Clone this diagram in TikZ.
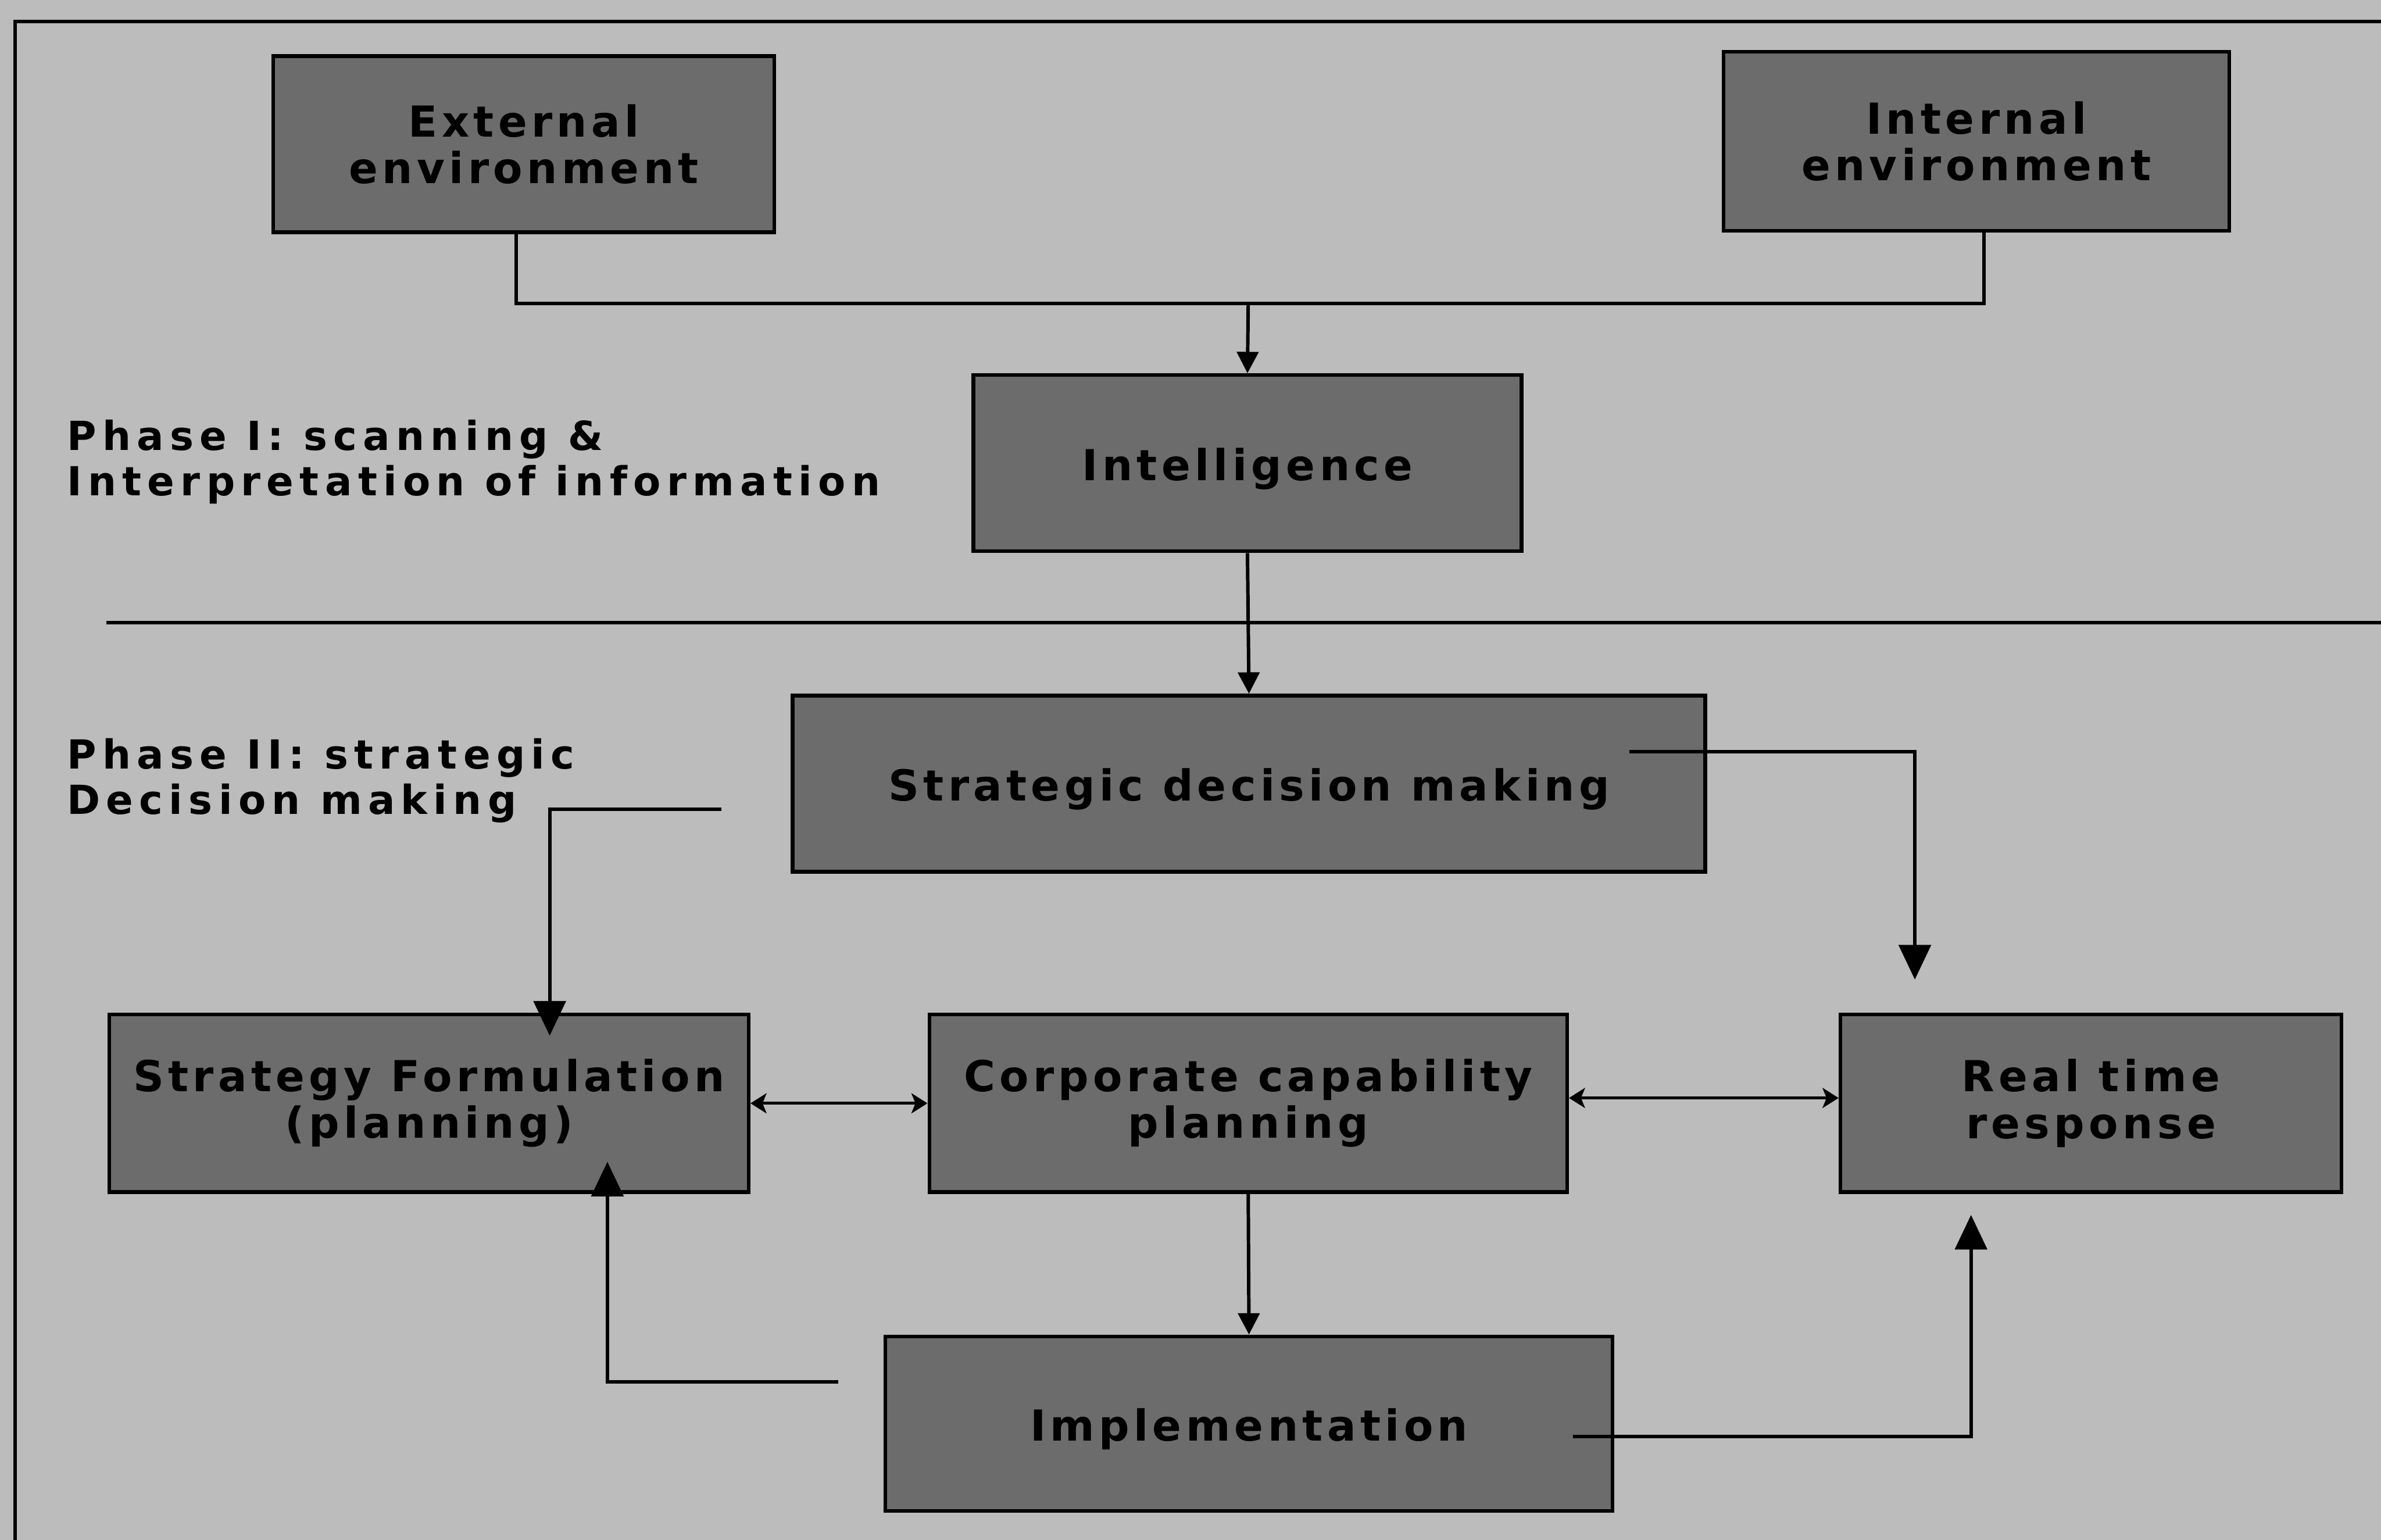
\documentclass[tikz,border=0pt]{standalone}
\usepackage{fontspec}
\setmainfont{DejaVu Sans}
\newfontfamily\boxfont[LetterSpace=10]{DejaVu Sans}
\newfontfamily\phasefont[LetterSpace=15]{DejaVu Sans}
\usetikzlibrary{arrows.meta,calc}
\definecolor{paper}{RGB}{188,188,188}
\definecolor{boxfill}{RGB}{108,108,108}
\begin{document}
\def\u{0.02cm}
\begin{tikzpicture}[x=0.02cm,y=-0.02cm,
  line width=1.3pt,
  stagebox/.style={draw=black, fill=boxfill, line width=1.4pt, align=center,
    inner sep=0pt, font=\boxfont\bfseries\fontsize{16}{17.5}\selectfont},
  oneline/.style={text height=13pt, text depth=0pt},
  phaselabel/.style={anchor=west, align=left, inner sep=0pt,
    font=\phasefont\bfseries\fontsize{15}{17}\selectfont},
  arrS/.style={-{Triangle[length=8pt,width=8pt]}},
  arrL/.style={-{Triangle[length=13pt,width=12pt]}},
  dbl/.style={{Stealth[length=6pt,width=7.5pt,inset=1.5pt]}-{Stealth[length=6pt,width=7.5pt,inset=1.5pt]}, line width=1.1pt}]

% page and frame
\fill[paper] (0,0) rectangle (1568,1014);
\useasboundingbox (0,0) rectangle (1568,1014);
\draw (10,1014) -- (10,14) -- (1568,14);
\draw (70,410) -- (1568,410);

% stages
\node[stagebox, minimum width=330*\u, minimum height=116*\u] (ext)   at (345,95)    {External\\environment};
\node[stagebox, minimum width=333*\u, minimum height=118*\u] (int)   at (1301.5,93) {Internal\\environment};
\node[stagebox, oneline, minimum width=361*\u, minimum height=116*\u] (intel) at (821.5,305) {Intelligence};
\node[stagebox, oneline, minimum width=601*\u, minimum height=116*\u] (sdm)   at (822.5,516) {Strategic decision making};
\node[stagebox, minimum width=421*\u, minimum height=117*\u] (sf)    at (282.5,726.5) {Strategy Formulation\\(planning)};
\node[stagebox, minimum width=420*\u, minimum height=117*\u] (ccp)   at (822,726.5) {Corporate capability\\planning};
\node[stagebox, minimum width=330*\u, minimum height=117*\u] (rtr)   at (1377,726.5) {Real time\\response};
\node[stagebox, oneline, minimum width=479*\u, minimum height=115*\u] (impl)  at (822.5,937.5) {Implementation};

% phase labels
\node[phaselabel] (ph1) at (43,304) {Phase I: scanning \&\\Interpretation of information};
\node[phaselabel] (ph2) at (43,514) {Phase II: strategic\\Decision making};

% connector end points
\coordinate (join)   at (822,200);
\coordinate (dmL)    at (475,533);
\coordinate (sfIn)   at (362,682);
\coordinate (dmR)    at (1073,495);
\coordinate (rtIn)   at (1261,645);
\coordinate (imL)    at (552,910);
\coordinate (sfBack) at (400,765);
\coordinate (imR)    at (1036,946);
\coordinate (rtBack) at (1298,800);

% connectors
\draw ([xshift=-5*\u]ext.south) |- (join) -| ([xshift=5*\u]int.south);
\draw[arrS] (join) -- (intel.north);
\draw[arrS] (intel.south) -- (sdm.north);
\draw[arrL] (dmL) -| (sfIn);
\draw[arrL] (dmR) -| (rtIn);
\draw[dbl] (sf.east) -- (ccp.west);
\draw[dbl] ([yshift=2pt]ccp.east) -- ([yshift=2pt]rtr.west);
\draw[arrS] (ccp.south) -- (impl.north);
\draw[arrL] (imL) -| (sfBack);
\draw[arrL] (imR) -| (rtBack);
\end{tikzpicture}
\end{document}
